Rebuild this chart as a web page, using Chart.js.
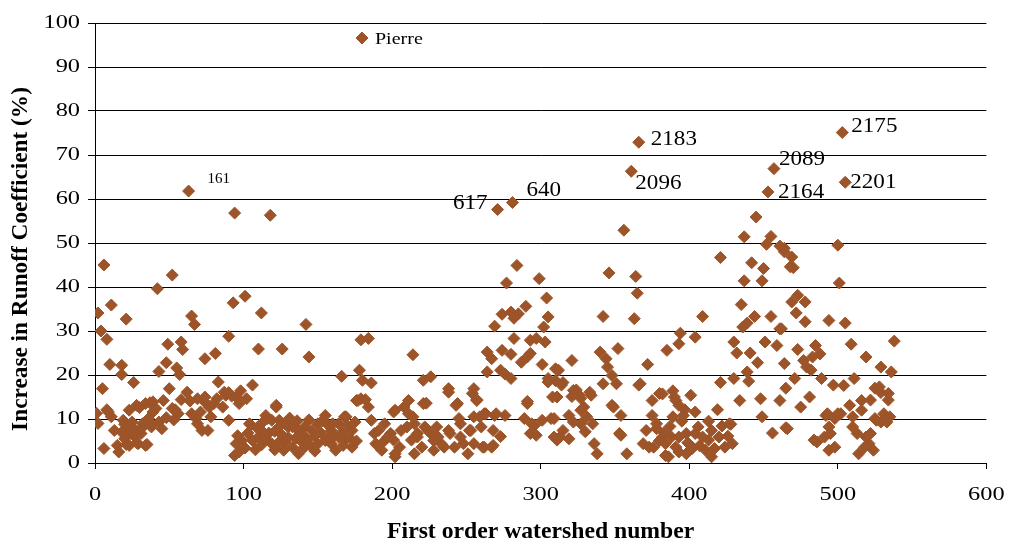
<!DOCTYPE html>
<html>
<head>
<meta charset="utf-8">
<title>Increase in Runoff Coefficient by first order watershed</title>
<script src="https://cdn.jsdelivr.net/npm/chart.js@4/dist/chart.umd.min.js"></script>
<style>
  html, body { margin: 0; padding: 0; background: #ffffff; }
  #wrap { width: 1015px; height: 544px; }
</style>
</head>
<body>
<div id="wrap"><canvas id="chart" width="1015" height="544"></canvas></div>
<script>
// ---- values: [watershed number, increase in runoff coefficient (%)] ----
const shedsWest = [
  [1,11.3],[2,9.0],[2,34.1],[4,30.0],[6,45.0],[8,28.1],[5,16.9],[6,3.3],[8,12.1],[11,10.5],
  [11,35.9],[10,22.4],[13,7.4],[15,4.0],[16,2.5],[18,22.2],[18,20.1],[20,8.8],[21,32.7],[22,6.7],
  [23,12.0],[23,4.0],[26,18.3],[26,7.8],[27,5.9],[30,12.6],[29,4.4],[31,6.7],[33,8.6],[34,4.0],
  [37,13.7],[38,9.0],[41,12.4],[42,39.6],[43,20.8],[45,7.8],[46,14.2],[48,22.8],[48,10.3],[49,27.0],
  [50,16.9],[52,42.7],[54,12.1],[53,9.8],[55,21.6],[57,20.1],[58,27.5],[59,25.8],[58,14.4],[62,16.1],
  [64,14.1],[65,33.4],[67,31.5],[68,10.1],[72,7.4],[73,14.2],[74,23.7],[75,13.5],[9,11.6],[19,9.7],
  [25,9.3],[32,8.9],[36,10.1],[43,9.3],[28,13.1],[34,13.5],[39,13.9],[52,12.4],[39,11.6],[18,7.0],
  [24,7.4],[31,7.8],[38,8.2],[21,4.2],[28,4.6],[35,4.2],[20,5.5],[69,8.9],[69,14.6],[74,15.0],
  [56,11.2],[65,11.2],[71,11.6],[77,12.7]
];
const shedsWestCentral = [
  [94,56.8],[118,56.3],[93,36.4],[101,37.9],[112,34.1],[142,31.5],[90,28.8],[81,24.9],[110,25.9],[126,25.9],
  [144,24.1],[83,18.4],[106,17.7],[87,16.1],[95,15.0],[102,14.6],[97,13.5],[86,12.7],[80,13.5],[82,14.6],
  [122,12.7],[78,10.5],[76,7.4],[90,9.7],[105,8.6],[116,10.1],[124,9.7],[130,8.2],[112,7.4],[110,5.9],
  [88,15.4],[92,15.2],[90,16.0],[98,16.4],[95,4.4],[94,1.7],[97,2.5],[99,5.1],[104,8.9],[106,5.1],
  [115,10.8],[115,5.5],[119,9.7],[119,4.4],[122,13.1],[124,8.2],[124,4.8],[128,8.9],[128,4.8],[133,8.2],
  [133,3.6],[137,7.4],[137,2.1],[141,8.2],[141,3.6],[146,7.4],[146,3.6],[150,4.4],[150,8.9],[155,10.8],
  [155,5.1],[159,7.4],[159,4.4],[164,8.9],[164,5.9],[168,10.5],[168,5.1],[173,7.4],[173,3.6],[177,14.2],
  [179,14.6],[96,6.2],[101,3.4],[103,6.8],[108,3.0],[109,8.0],[112,4.1],[113,9.3],[117,6.8],[121,3.0],
  [121,7.2],[126,6.3],[127,2.9],[130,5.8],[131,10.2],[135,5.6],[136,9.6],[139,4.9],[140,6.4],[143,5.3],
  [144,9.8],[148,6.1],[148,2.7],[152,6.9],[153,9.6],[157,5.8],[157,8.6],[161,6.1],[162,2.9],[166,6.9],
  [167,4.0],[170,8.4],[171,5.8],[175,9.3],[176,5.0],[166,19.7],[178,21.1],[176,14.2],[160,8.9],[169,10.5]
];
const shedsCentral = [
  [180,18.8],[186,18.2],[179,28.0],[184,28.3],[182,14.4],[184,12.7],[186,9.7],[188,6.7],[190,4.0],[195,5.1],
  [201,11.6],[202,1.4],[199,6.7],[208,12.7],[211,11.2],[215,8.9],[217,5.9],[221,13.5],[224,7.4],[228,5.1],
  [230,8.2],[235,3.6],[238,16.1],[239,6.7],[244,13.5],[246,8.9],[248,4.4],[252,7.4],[254,15.8],[257,14.2],
  [259,10.5],[261,3.6],[263,11.2],[268,7.4],[268,4.0],[214,24.6],[221,18.8],[226,19.6],[202,12.0],[211,14.2],
  [214,10.5],[223,13.6],[191,7.4],[195,8.9],[197,5.9],[189,4.4],[193,2.9],[202,2.1],[201,5.2],[206,7.4],
  [210,8.2],[205,3.6],[213,5.2],[217,6.7],[222,8.2],[215,2.1],[220,3.6],[226,6.7],[228,2.9],[233,4.4],
  [231,5.9],[238,7.4],[242,3.6],[246,5.9],[251,2.1],[255,4.4],[262,3.6],[267,3.6],[253,7.4],[260,8.2],
  [238,16.9],[243,13.1],[255,16.9],[257,14.4],[245,10.1],[255,10.5],[262,11.2],[269,10.8],[264,25.2],[267,23.7],
  [264,20.7],[269,31.1]
];
const shedsEastCentral = [
  [284,44.9],[277,40.9],[299,41.9],[304,37.5],[274,33.8],[280,34.3],[285,33.9],[290,35.6],[282,32.9],[305,33.2],
  [302,30.9],[282,28.3],[293,27.9],[297,28.3],[303,27.5],[274,25.6],[280,24.7],[287,22.9],[291,24.1],[293,24.9],
  [301,22.4],[310,21.4],[273,21.1],[276,20.2],[280,19.2],[305,19.2],[308,15.0],[291,14.0],[276,10.8],[289,10.1],
  [294,8.9],[301,9.7],[307,10.1],[293,6.7],[273,6.0],[311,5.2],[356,52.9],[346,43.2],[364,42.4],[365,38.6],
  [342,33.3],[363,32.8],[385,25.6],[352,26.0],[340,25.2],[344,23.7],[345,21.8],[342,18.0],[351,18.0],[348,19.9],
  [321,23.3],[312,21.1],[315,18.3],[310,18.7],[311,15.0],[372,22.4],[366,17.7],[333,16.1],[324,16.6],[321,15.1],
  [327,14.7],[348,13.1],[354,10.8],[329,12.7],[331,10.5],[335,8.9],[327,8.9],[319,10.8],[315,7.4],[309,10.1],
  [309,5.9],[313,5.9],[319,5.5],[336,4.4],[338,2.1],[353,6.7],[358,2.1],[330,7.1],[375,14.2],[382,15.7],
  [389,16.4],[375,10.8],[371,7.4],[378,7.8],[369,4.4],[373,3.6],[382,5.9],[386,1.4],[384,4.4],[305,18.4],
  [314,17.7],[322,16.5],[326,15.4],[334,15.4],[291,13.5],[270,11.2],[296,8.6],[327,12.0],[349,12.7],[294,7.0],
  [297,6.3],[322,9.3],[354,6.3],[367,18.0],[380,15.8],[390,15.0],[378,8.9],[380,5.1],[376,3.6]
];
const shedsEast = [
  [445,55.9],[437,51.4],[455,51.5],[452,49.7],[461,49.3],[464,48.0],[468,44.6],[421,46.7],[442,45.5],[450,44.2],
  [449,41.4],[437,41.4],[435,36.0],[409,33.3],[444,33.3],[439,31.8],[436,30.9],[455,33.3],[461,30.5],[394,29.5],
  [393,27.1],[404,28.6],[430,27.5],[432,25.0],[441,25.0],[446,22.8],[451,27.5],[459,26.7],[464,22.6],[421,18.3],
  [430,19.2],[439,20.7],[440,18.6],[434,14.2],[448,14.6],[461,14.2],[449,10.5],[419,12.1],[428,8.8],[401,15.4],
  [391,14.2],[397,12.1],[456,6.8],[465,8.0],[389,10.5],[398,6.7],[404,6.7],[409,5.9],[415,7.4],[420,5.9],
  [424,3.6],[429,4.4],[388,5.9],[391,3.6],[402,3.6],[411,2.9],[415,1.4],[398,2.1],[393,5.9],[393,13.1],
  [383,6.9],[387,8.3],[395,9.5],[399,4.6],[406,8.2],[407,3.9],[413,9.5],[413,5.2],[417,3.3],[422,8.4],
  [426,6.1],[396,10.8],[404,11.6],[427,8.9],[384,1.7],[393,2.5],[402,3.3]
];
const shedsFarEast = [
  [500,49.5],[501,40.9],[464,48.8],[469,46.8],[470,44.4],[473,38.1],[469,36.6],[478,36.6],[472,34.1],[478,32.1],
  [494,32.4],[505,31.8],[462,30.5],[538,27.7],[509,27.0],[473,25.8],[485,26.7],[488,24.8],[483,24.1],[519,24.1],
  [477,23.3],[479,21.8],[482,21.1],[529,21.8],[536,20.7],[471,19.2],[489,19.2],[465,17.0],[497,17.7],[504,17.6],
  [511,19.2],[525,17.0],[529,16.0],[534,14.3],[522,14.3],[481,15.0],[475,12.7],[508,13.1],[516,14.2],[516,12.0],
  [492,10.8],[498,10.1],[502,11.2],[510,10.5],[494,8.2],[510,8.2],[513,6.7],[525,10.1],[529,9.3],[533,9.3],
  [466,7.8],[484,5.2],[494,2.9],[491,5.9],[514,2.1],[521,4.4],[522,6.7],[519,5.9],[493,11.2],[500,11.2],
  [495,6.7],[486,4.8],[498,3.6],[518,3.6],[524,2.9],[531,11.2],[535,10.5],[526,9.7],[528,17.3],[534,15.8]
];

// watersheds called out by their identifiers
const shedIds = ['161', '617', '640', '2183', '2096', '2089', '2164', '2175', '2201'];
const shedIdX = [63, 271, 281, 366, 361, 457, 453, 503, 505];
const shedIdY = [61.8, 57.6, 59.2, 72.9, 66.3, 66.9, 61.6, 75.1, 63.8];

const xTicks = [0, 100, 200, 300, 400, 500, 600];
const yTicks = [0, 10, 20, 30, 40, 50, 60, 70, 80, 90, 100];
const seriesName = 'Pierre';
const xTitle = 'First order watershed number';
const yTitle = 'Increase in Runoff Coefficient (%)';

// ---- styling ----
const SERIF = "'Liberation Serif', 'Times New Roman', Times, serif";
const MARKER = '#9c5428';
const TICK_WIDEN = 1.25;

const canvas = document.getElementById('chart');
const ctx = canvas.getContext('2d');

// Regular-weight glyphs are drawn a little wider than their nominal size,
// stretched along the screen's horizontal direction whatever the rotation.
const plainFillText = ctx.fillText;
ctx.fillText = function (text, x, y, maxWidth) {
  const k = this.textWiden || (/bold|700/.test(this.font) ? 1 : TICK_WIDEN);
  const m = this.getTransform();
  this.save();
  this.translate(x, y);
  if (Math.abs(m.b) > Math.abs(m.a)) this.scale(1, k); else this.scale(k, 1);
  if (maxWidth === undefined) plainFillText.call(this, text, 0, 0);
  else plainFillText.call(this, text, 0, 0, maxWidth / k);
  this.restore();
};

const placement = {
  '161':  { dx: 19,  dy: -12, align: 'left',  size: 15, widen: 1 },
  '617':  { dx: -10, dy: -6,  align: 'right', size: 22, widen: 1.05 },
  '640':  { dx: 14,  dy: -12, align: 'left',  size: 22, widen: 1.05 },
  '2183': { dx: 12,  dy: -3,  align: 'left',  size: 22, widen: 1.05 },
  '2096': { dx: 4,   dy: 12,  align: 'left',  size: 22, widen: 1.05 },
  '2089': { dx: 5,   dy: -9,  align: 'left',  size: 22, widen: 1.05 },
  '2164': { dx: 10,  dy: 0,   align: 'left',  size: 22, widen: 1.05 },
  '2175': { dx: 9,   dy: -6,  align: 'left',  size: 22, widen: 1.05 },
  '2201': { dx: 5,   dy: 0,   align: 'left',  size: 22, widen: 1.05 }
};

// identifiers written beside their watersheds
const idLabels = {
  id: 'idLabels',
  afterDatasetsDraw(chart, args, opts) {
    const c = chart.ctx;
    const { x, y } = chart.scales;
    c.save();
    c.fillStyle = '#000000';
    c.textBaseline = 'middle';
    shedIds.forEach((id, i) => {
      const st = opts.placement[id];
      c.font = `${st.size}px ${SERIF}`;
      c.textAlign = st.align;
      c.textWiden = st.widen;
      c.fillText(id, x.getPixelForValue(shedIdX[i]) + st.dx, y.getPixelForValue(shedIdY[i]) + st.dy);
    });
    c.textWiden = 0;
    c.restore();
  }
};

// series key drawn inside the plot area
const seriesKey = {
  id: 'seriesKey',
  afterDraw(chart, args, opts) {
    const c = chart.ctx;
    const area = chart.chartArea;
    const mx = area.left + opts.offsetX;
    const my = area.top + opts.offsetY;
    c.save();
    c.fillStyle = MARKER;
    c.strokeStyle = MARKER;
    c.lineWidth = 1;
    Chart.helpers.drawPoint(c, { pointStyle: 'rectRot', radius: 6, borderWidth: 1 }, mx, my);
    c.fillStyle = '#000000';
    c.font = `16px ${SERIF}`;
    c.textAlign = 'left';
    c.textBaseline = 'middle';
    c.fillText(seriesName, mx + 13, my + 2);
    c.restore();
  }
};

// vertical axis title, centred a little below the middle of the plot
const valueAxisTitle = {
  id: 'valueAxisTitle',
  afterDraw(chart, args, opts) {
    const c = chart.ctx;
    const area = chart.chartArea;
    c.save();
    c.translate(opts.x, area.top + opts.centerFromTop);
    c.rotate(-Math.PI / 2);
    c.fillStyle = '#000000';
    c.font = `bold ${opts.size}px ${SERIF}`;
    c.textAlign = 'center';
    c.textBaseline = 'middle';
    c.fillText(yTitle, 0, 0);
    c.restore();
  }
};

const points = [shedsWest, shedsWestCentral, shedsCentral, shedsEastCentral, shedsEast, shedsFarEast]
  .flat()
  .map(([x, y]) => ({ x, y }))
  .concat(shedIdX.map((x, i) => ({ x, y: shedIdY[i] })));

new Chart(ctx, {
  type: 'scatter',
  data: {
    datasets: [{
      label: seriesName,
      data: points,
      pointStyle: 'rectRot',
      pointRadius: 6,
      pointHoverRadius: 6,
      pointBorderWidth: 1,
      backgroundColor: MARKER,
      borderColor: MARKER
    }]
  },
  options: {
    responsive: false,
    animation: false,
    devicePixelRatio: 1,
    events: [],
    layout: { padding: { left: 0, top: 23, right: 18, bottom: 0 } },
    plugins: {
      legend: { display: false },
      tooltip: { enabled: false },
      idLabels: { placement },
      seriesKey: { offsetX: 267, offsetY: 15 },
      valueAxisTitle: { x: 21, centerFromTop: 236, size: 23.3 }
    },
    scales: {
      x: {
        type: 'linear',
        min: 0,
        max: 600,
        afterBuildTicks: s => { s.ticks = xTicks.map(v => ({ value: v })); },
        afterFit: s => { s.height = 81; },
        grid: { drawOnChartArea: false, drawTicks: true, tickLength: 6, color: '#000000', lineWidth: 1 },
        border: { display: true, color: '#000000', width: 1 },
        ticks: { color: '#000000', padding: 14, maxRotation: 0, font: { family: SERIF, size: 19.5 } },
        title: {
          display: true, text: xTitle, color: '#000000',
          font: { family: SERIF, size: 23.7, weight: 'bold', lineHeight: 1 },
          padding: { top: 0, bottom: 0 }
        }
      },
      y: {
        type: 'linear',
        min: 0,
        max: 100,
        afterBuildTicks: s => { s.ticks = yTicks.map(v => ({ value: v })); },
        afterFit: s => { s.width = 95; },
        grid: { drawTicks: true, tickLength: 7, color: '#000000', lineWidth: 1 },
        border: { display: true, color: '#000000', width: 1 },
        ticks: { color: '#000000', padding: 8, font: { family: SERIF, size: 19.5 } },
        title: { display: false }
      }
    }
  },
  plugins: [idLabels, seriesKey, valueAxisTitle]
});
</script>
</body>
</html>
